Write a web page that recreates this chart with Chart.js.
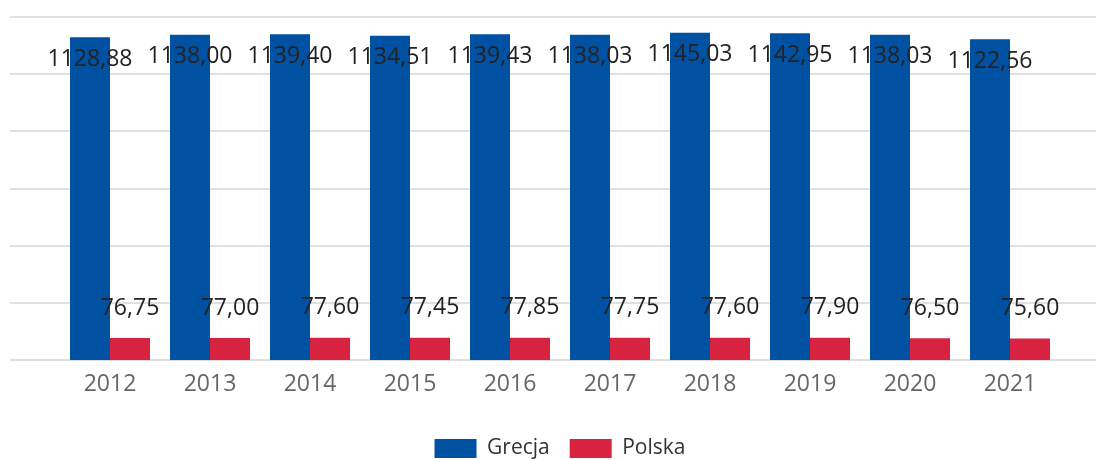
<!DOCTYPE html>
<html>
<head>
<meta charset="utf-8">
<script src="https://cdn.jsdelivr.net/npm/chart.js@4.4.0/dist/chart.umd.min.js"></script>
<style>
  body { margin: 0; background: #fff; }
  canvas { display: block; }
</style>
</head>
<body>
<canvas id="chart" width="1096" height="460"></canvas>
<script>
// data
const years = ['2012', '2013', '2014', '2015', '2016', '2017', '2018', '2019', '2020', '2021']
const grecja = [1128.88, 1138.00, 1139.40, 1134.51, 1139.43, 1138.03, 1145.03, 1142.95, 1138.03, 1122.56]
const polska = [76.75, 77.00, 77.60, 77.45, 77.85, 77.75, 77.60, 77.90, 76.50, 75.60]
const yTicks = [0, 200, 400, 600, 800, 1000, 1200]

const FONT = "'Open Sans', 'Noto Sans', sans-serif"

const fmt = v => v.toFixed(2).replace('.', ',')

// horizontal grid lines run the full width, wider than the bars area
const fullGrid = {
  id: 'fullGrid',
  beforeDatasetsDraw(chart) {
    const ctx = chart.ctx
    const y = chart.scales.y
    ctx.save()
    ctx.strokeStyle = '#e0e0e0'
    ctx.lineWidth = 2
    for (const t of yTicks) {
      const py = Math.round(y.getPixelForValue(t))
      ctx.beginPath()
      ctx.moveTo(10, py)
      ctx.lineTo(chart.width, py)
      ctx.stroke()
    }
    ctx.restore()
  }
}

// value labels
const valueLabels = {
  id: 'valueLabels',
  afterDatasetsDraw(chart) {
    const ctx = chart.ctx
    ctx.save()
    ctx.font = '23px ' + FONT
    ctx.fillStyle = '#222'
    ctx.textAlign = 'center'
    ctx.textBaseline = 'middle'
    chart.data.datasets.forEach((ds, i) => {
      const meta = chart.getDatasetMeta(i)
      meta.data.forEach((bar, j) => {
        const off = i === 0 ? 22 : -30
        ctx.fillText(fmt(ds.data[j]), bar.x, bar.y + off)
      })
    })
    ctx.restore()
  }
}

new Chart(document.getElementById('chart'), {
  type: 'bar',
  data: {
    labels: years,
    datasets: [
      { label: 'Grecja', data: grecja, backgroundColor: '#0051a2' },
      { label: 'Polska', data: polska, backgroundColor: '#d72340' }
    ]
  },
  options: {
    responsive: false,
    animation: false,
    layout: { padding: { left: 60, right: 36, top: 17, bottom: -9 } },
    datasets: { bar: { categoryPercentage: 0.8, barPercentage: 1.0 } },
    scales: {
      x: {
        grid: { display: false, tickLength: 0 },
        border: { display: false },
        ticks: { color: '#666', font: { family: FONT, size: 23 }, padding: 11 },
        // leave room so the plot ends at y=360
        afterFit(scale) {
          scale.height = 109 - scale.chart.legend.height
        }
      },
      y: {
        display: false,
        min: 0,
        max: 1200,
        ticks: { stepSize: 200 }
      }
    },
    plugins: {
      legend: {
        position: 'bottom',
        labels: {
          boxWidth: 42,
          boxHeight: 19,
          padding: 20,
          color: '#333',
          font: { family: FONT, size: 21 }
        }
      },
      tooltip: { enabled: false }
    }
  },
  plugins: [fullGrid, valueLabels]
})
</script>
</body>
</html>
